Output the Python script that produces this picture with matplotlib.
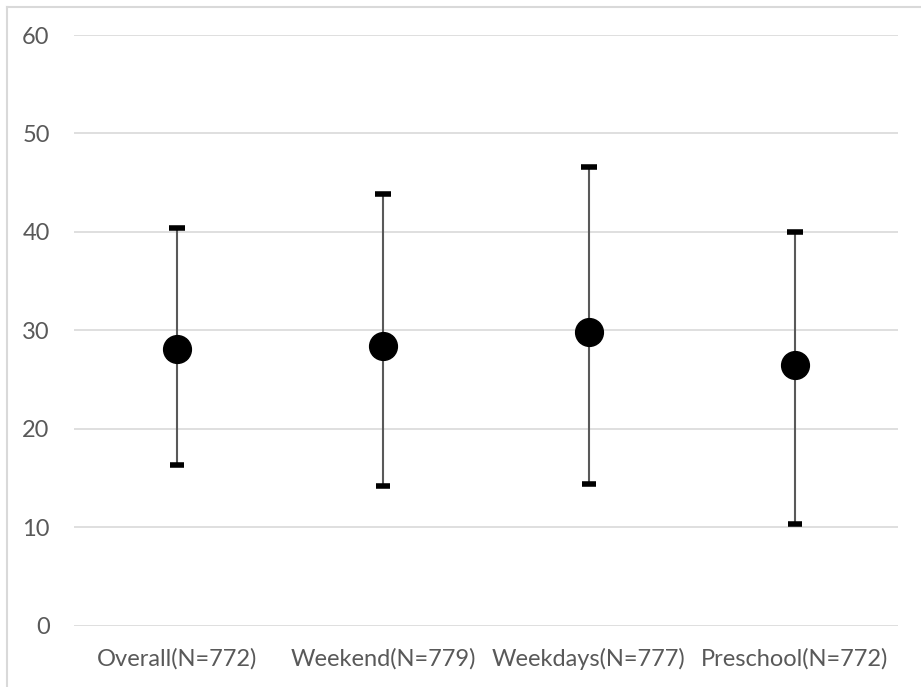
import matplotlib
matplotlib.use("Agg")
import matplotlib.pyplot as plt
from matplotlib.lines import Line2D
import numpy as np

categories = ["Overall(N=772)", "Weekend(N=779)", "Weekdays(N=777)", "Preschool(N=772)"]
means = [28.1, 28.4, 29.8, 26.5]
upper = [40.4, 43.8, 46.6, 40.0]
lower = [16.3, 14.2, 14.4, 10.3]

grey_txt = "#595959"
grid_col = "#d9d9d9"

plt.rcParams['font.family'] = ['Lato', 'DejaVu Sans']

fig = plt.figure(figsize=(9.21, 6.87), dpi=100)
ax = fig.add_axes([74/921, (687-625.7)/687, (898-74)/921, (625.7-35)/687])

x = np.arange(len(categories))
m = np.array(means)
yerr = [m - np.array(lower), np.array(upper) - m]
ax.errorbar(x, m, yerr=yerr, fmt='o', color='black', markersize=20,
            ecolor=grey_txt, elinewidth=1.5, capsize=0, zorder=3)
# caps drawn as short thick bars
ax.plot(x, upper, linestyle='none', marker='_', markersize=12, markeredgewidth=4,
        color='black', zorder=4)
ax.plot(x, lower, linestyle='none', marker='_', markersize=9.5, markeredgewidth=4,
        color='black', zorder=4)

ax.set_xlim(-0.5, len(categories) - 0.5)
ax.set_ylim(0, 60)
ax.set_yticks(np.arange(0, 61, 10))
ax.set_xticks(x)
ax.set_xticklabels(categories)
ax.yaxis.grid(True, color=grid_col, linewidth=1.2)
ax.set_axisbelow(True)
for s in ax.spines.values():
    s.set_visible(False)
ax.tick_params(axis='both', length=0, labelsize=17, colors=grey_txt)
ax.tick_params(axis='y', pad=17.5)
ax.tick_params(axis='x', pad=16)

# outer chart border (top and left visible)
fig.add_artist(Line2D([7/921, 7/921], [0, 1 - 7/687], transform=fig.transFigure,
                      color=grid_col, linewidth=1.5))
fig.add_artist(Line2D([7/921, 1], [1 - 7/687, 1 - 7/687], transform=fig.transFigure,
                      color=grid_col, linewidth=1.5))

fig.savefig("out.png", dpi=100, facecolor='white')
